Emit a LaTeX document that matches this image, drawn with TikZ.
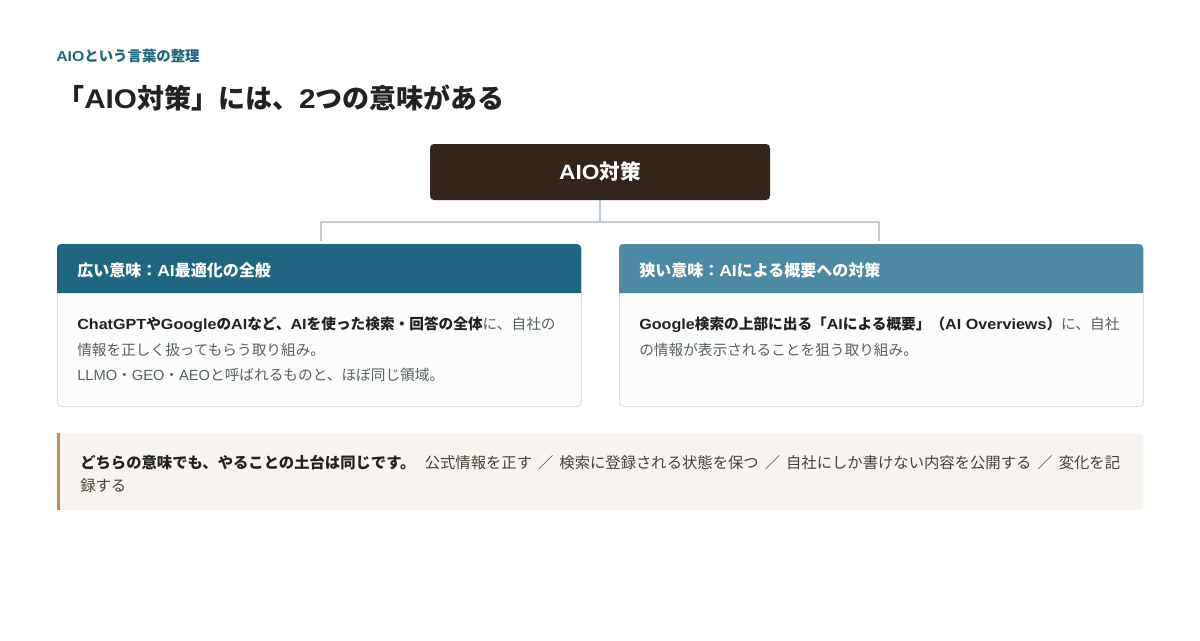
\documentclass[tikz,border=0pt]{standalone}
\usepackage{fontspec}
\setmainfont{Noto Sans CJK JP}
\newfontfamily\latinfont[BoldFeatures={FakeStretch=1.1}]{Liberation Sans}
\usepackage{xcolor}
\definecolor{kicker}{HTML}{1F6680}
\definecolor{ink}{HTML}{222222}
\definecolor{soft}{HTML}{5A5F63}
\definecolor{rootbg}{HTML}{33251C}
\definecolor{wideHead}{HTML}{1F6680}
\definecolor{narrowHead}{HTML}{4E89A3}
\definecolor{linkcol}{HTML}{BFCAD4}
\definecolor{cardline}{HTML}{DCE0E3}
\definecolor{cardbg}{HTML}{FBFCFC}
\definecolor{notebg}{HTML}{F7F3EE}
\definecolor{notebar}{HTML}{C08E55}
\definecolor{notetext}{HTML}{4A3F36}
\tikzstyle{rootbox}=[fill=rootbg, rounded corners=3pt, minimum width=255pt, minimum height=42pt, text=white, font=\fontsize{15.5}{18}\selectfont\bfseries]
\tikzstyle{card}=[draw=cardline, fill=cardbg, line width=0.6pt, rounded corners=3pt, minimum width=393pt, minimum height=121.5pt, anchor=north west]
\tikzstyle{headtext}=[anchor=west, text=white, inner sep=0pt, font=\fontsize{12}{14}\selectfont\bfseries]
\tikzstyle{bodytext}=[anchor=north west, inner sep=0pt, align=left, text=soft, font=\fontsize{11}{19.1}\selectfont]
\tikzstyle{link}=[draw=linkcol, line width=1.5pt]
\newcommand{\lat}[1]{{\latinfont #1}}
\newcommand{\keyword}[1]{\textcolor{ink}{\bfseries #1}}
\newcommand{\sep}{\hspace{4.5pt}／\hspace{4.5pt}}

\begin{document}
\begin{tikzpicture}[x=0.75pt, y=-0.75pt]
\useasboundingbox (0,0) rectangle (1200,640);
% headings
\node[anchor=west, inner sep=0pt, text=kicker, font=\fontsize{10.8}{12}\selectfont\bfseries] (kick) at (56,56) {\lat{AIO}という言葉の整理};
\node[anchor=west, inner sep=0pt, text=ink, font=\fontsize{20.25}{23}\selectfont\bfseries] (title) at (57,98) {「\lat{AIO}対策」には、\lat{2}つの意味がある};
% root
\node[rootbox] (root) at (600,172) {\lat{AIO}対策};
% cards
\foreach \n/\x/\c/\t in {wide/57/wideHead/広い意味：\lat{AI}最適化の全般, narrow/619/narrowHead/狭い意味：\lat{AI}による概要への対策}{
	\node[card] (\n) at (\x,244) {};
	\fill[\c] (\x,293) [rounded corners=3pt] -- (\x,244) -- (\x+524,244) [sharp corners] -- (\x+524,293) -- cycle;
	\node[headtext] (\n h) at (\x+20,270) {\t};
	}
\node[bodytext] (wide b) at (77,317) {\keyword{\lat{ChatGPT}や\lat{Google}の\lat{AI}など、\lat{AI}を使った検索・回答の全体}に、自社の\\情報を正しく扱ってもらう取り組み。\\\lat{LLMO}・\lat{GEO}・\lat{AEO}と呼ばれるものと、ほぼ同じ領域。};
\node[bodytext] (narrow b) at (639,317) {\keyword{\lat{Google}検索の上部に出る「\lat{AI}による概要」（\lat{AI Overviews}）}に、自社\\の情報が表示されることを狙う取り組み。};
% connector
\coordinate (split) at (600,222);
\coordinate (ltop) at (321,241);
\coordinate (rtop) at (879,241);
\draw[link] (root.south) -- (split);
\draw[link] (ltop) |- (split) -| (rtop);
% note
\node[fill=notebg, rounded corners=3pt, minimum width=814.5pt, minimum height=57.75pt, anchor=north west, inner sep=0pt] (note) at (57,433) {};
\fill[notebar] (57,433) rectangle (60,510);
\node[anchor=north west, inner sep=0pt, align=left, text=notetext, font=\fontsize{11.5}{17.25}\selectfont] (note t) at (80,455) {\keyword{どちらの意味でも、やることの土台は同じです。}\hspace{7pt}公式情報を正す\sep 検索に登録される状態を保つ\sep 自社にしか書けない内容を公開する\sep 変化を記\\録する};
\end{tikzpicture}
\end{document}
